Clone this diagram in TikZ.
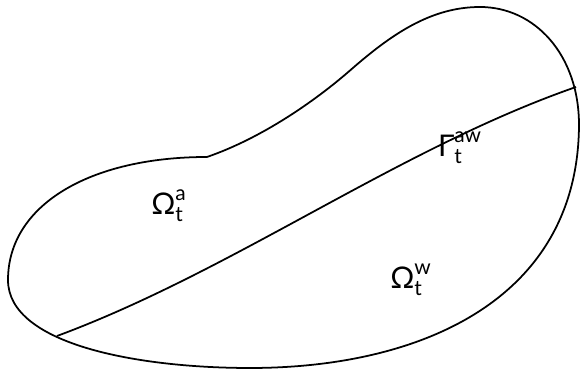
\documentclass[tikz,border=0pt]{standalone}
\usepackage{amsmath}
\usepackage{fontspec}
\setmainfont{Lato}
\usepackage{tikz}

\tikzset{
	region/.style={font=\fontsize{17}{20}\selectfont, inner sep=0pt},
}

\begin{document}
\begin{tikzpicture}[line width=1pt]
		\useasboundingbox (0,0) rectangle (11.6,7.4);
		
		\coordinate (kink) at (4.14,4.26);
		\coordinate (top) at (9.6,7.26);
		\coordinate (east) at (11.58,4.9);
		\coordinate (bottom) at (5.0,0.04);
		\coordinate (west) at (0.16,1.8);
		\coordinate (left) at (1.14,0.68);
		\coordinate (right) at (11.52,5.66);
		
		% outer boundary, one corner at (kink)
		\draw (kink) .. controls (5.24,4.64) and (6.3,5.38) .. (7.0,5.99)
			.. controls (7.8,6.69) and (8.6,7.26) .. (top)
			.. controls (10.7,7.26) and (11.58,6.3) .. (east)
			.. controls (11.56,1.4) and (8.4,0.04) .. (bottom)
			.. controls (2.8,0.04) and (0.16,0.5) .. (west)
			.. controls (0.16,3.3) and (1.8,4.26) .. (kink);
		
		% interface between the two phases
		\draw (left) .. controls (4.7,2.0) and (7.96,4.42) .. (right);
		
		\node[region] (air) at (3.38,3.28) {$\text{Ω}_{\text{t}}^{\text{a}}$};
		\node[region] (water) at (8.22,1.8) {$\text{Ω}_{\text{t}}^{\text{w}}$};
		\node[region] (gamma) at (9.2,4.44) {$\text{Γ}_{\text{t}}^{\text{aw}}$};
	\end{tikzpicture}
\end{document}
